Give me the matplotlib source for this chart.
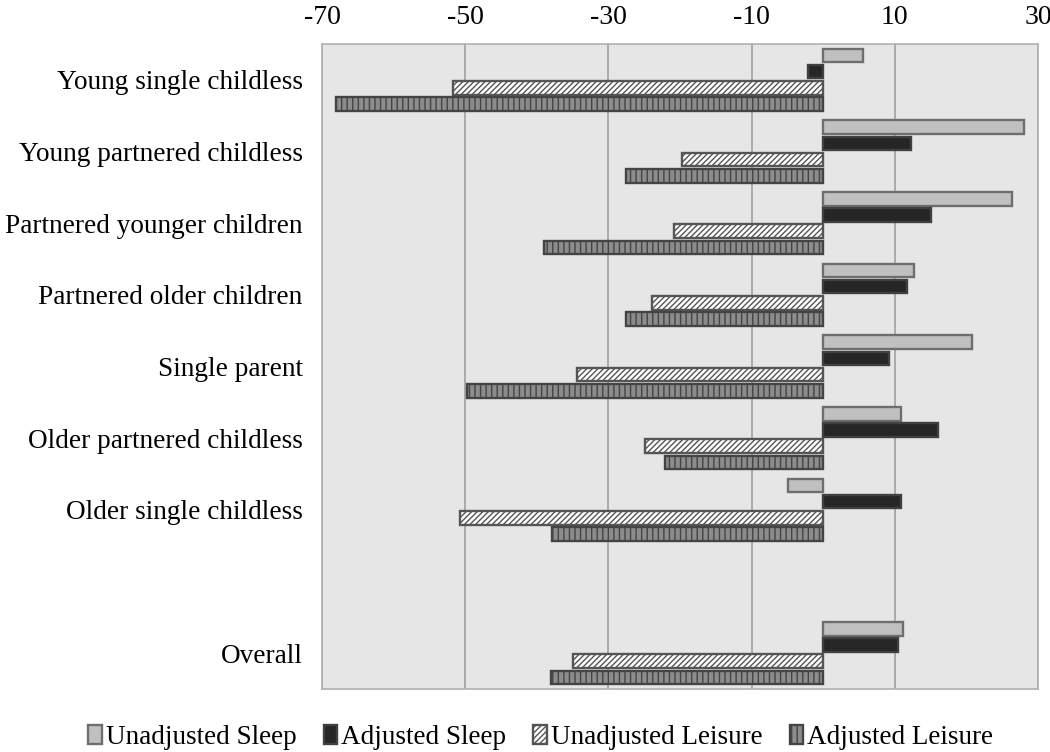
import numpy as np
import matplotlib
matplotlib.use('Agg')
import matplotlib.pyplot as plt

# groups (empty slot before "Overall" as in the original)
categories = ['Young single childless', 'Young partnered childless',
              'Partnered younger children', 'Partnered older children',
              'Single parent', 'Older partnered childless',
              'Older single childless', '', 'Overall']

unadj_sleep = [5.6, 28.0, 26.4, 12.6, 20.7, 10.9, -4.9, np.nan, 11.1]
adj_sleep = [-2.2, 12.3, 15.0, 11.7, 9.2, 16.0, 10.9, np.nan, 10.5]
unadj_leisure = [-51.7, -19.7, -20.8, -23.9, -34.4, -24.9, -50.8, np.nan, -35.0]
adj_leisure = [-68.0, -27.6, -39.0, -27.6, -49.7, -22.1, -37.9, np.nan, -38.0]

series_names = ['Unadjusted Sleep', 'Adjusted Sleep',
                'Unadjusted Leisure', 'Adjusted Leisure']

plt.rcParams['font.family'] = ['Liberation Serif', 'DejaVu Serif']
plt.rcParams['hatch.linewidth'] = 1.0

fig = plt.figure(figsize=(10.5, 7.52), dpi=100)
ax = fig.add_axes([0.3067, 0.0838, 0.682, 0.8577])
ax.set_facecolor('#e6e6e6')

y = np.arange(len(categories))
slot = 0.227
h = 0.19
styles = [
    dict(color='#c0c0c0', edgecolor='#6e6e6e', hatch=None),
    dict(color='#262626', edgecolor='#404040', hatch=None),
    dict(color='white', edgecolor='#555555', hatch='//////'),
    dict(color='#8c8c8c', edgecolor='#444444', hatch='|||'),
]
all_vals = [unadj_sleep, adj_sleep, unadj_leisure, adj_leisure]
for i, (vals, st, name) in enumerate(zip(all_vals, styles, series_names)):
    ax.barh(y + (i - 1.5) * slot, vals, height=h, color=st['color'],
            edgecolor=st['edgecolor'], hatch=st['hatch'], linewidth=1.7,
            label=name, zorder=3)

ax.set_xlim(-70, 30)
ax.set_ylim(len(categories) - 0.5, -0.5)
ax.set_xticks(np.arange(-70, 31, 20))
ax.set_xticklabels([str(v) for v in range(-70, 31, 20)])
ax.xaxis.tick_top()
ax.tick_params(axis='x', length=0, pad=10, labelsize=20)
ax.set_yticks(y)
ax.set_yticklabels(categories)
ax.tick_params(axis='y', length=0, pad=14, labelsize=19.6)
ax.grid(axis='x', color='#a0a0a0', linewidth=1.2, zorder=0)
ax.set_axisbelow(True)
for sp in ax.spines.values():
    sp.set_color('#b0b0b0')
    sp.set_linewidth(1.2)

ax.legend(loc='center', bbox_to_anchor=(0.515, 0.019), bbox_transform=fig.transFigure,
          ncol=4, frameon=False, fontsize=19.5, handlelength=0.5, handleheight=0.7,
          handletextpad=0.15, columnspacing=1.0, borderpad=0)

fig.savefig('out.png', dpi=100)
